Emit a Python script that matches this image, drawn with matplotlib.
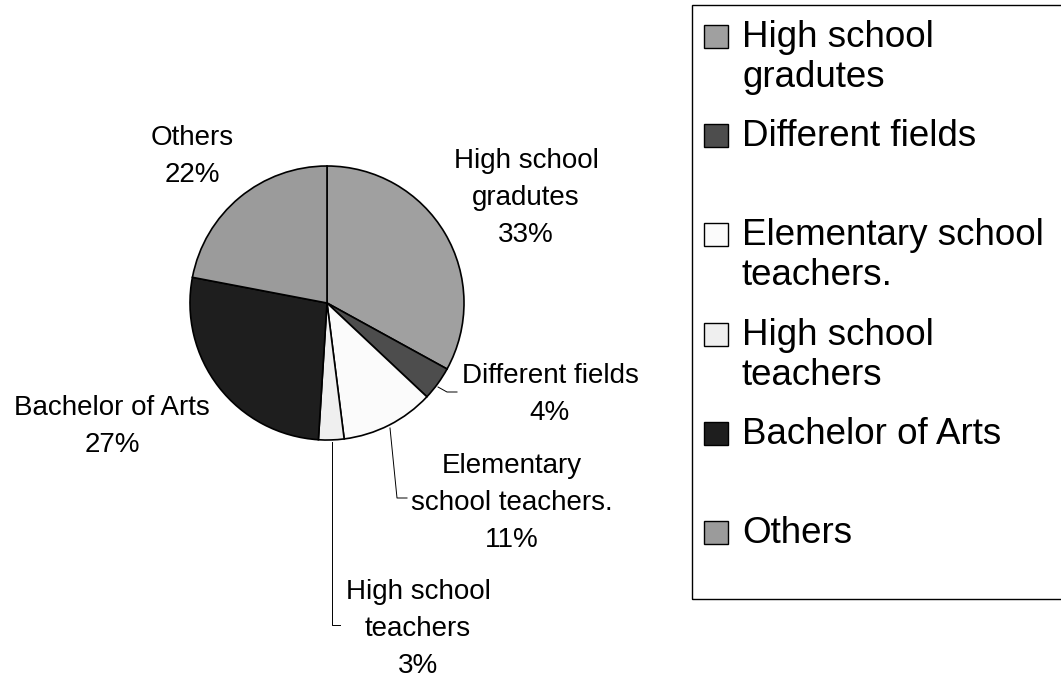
import matplotlib
matplotlib.use("Agg")
import matplotlib.pyplot as plt
from matplotlib.patches import Rectangle

plt.rcParams['font.family'] = ['Liberation Sans', 'DejaVu Sans']

# data
categories = ['High school gradutes', 'Different fields', 'Elementary school teachers.',
              'High school teachers', 'Bachelor of Arts', 'Others']
values = [33, 4, 11, 3, 27, 22]
colors = ['#a0a0a0', '#4d4d4d', '#fbfbfb', '#efefef', '#1e1e1e', '#9b9b9b']

# how the labels wrap, beside the pie and in the legend
pie_lines = [['High school', 'gradutes'], ['Different fields'], ['Elementary', 'school teachers.'],
             ['High school', 'teachers'], ['Bachelor of Arts'], ['Others']]
legend_lines = [['High school', 'gradutes'], ['Different fields'], ['Elementary school', 'teachers.'],
                ['High school', 'teachers'], ['Bachelor of Arts'], ['Others']]

W, H = 1061, 677
fig = plt.figure(figsize=(W / 100, H / 100), dpi=100)
ax = fig.add_axes([0, 0, 1, 1])

def py(y):
    # pixel row (from top) -> data y
    return H - y

ax.pie(values, colors=colors, startangle=90, counterclock=False,
       center=(327, py(303)), radius=137,
       wedgeprops={'edgecolor': 'black', 'linewidth': 1.2})
ax.set_xlim(0, W)
ax.set_ylim(0, H)
ax.set_aspect('equal')
ax.axis('off')

# label placement: centre x, first baseline (pixels from top)
label_pos = [(526, 168), (550, 383), (512, 473), (418, 599), (112, 415), (192, 145)]
line_gap = 37
for lines, v, (x, y0) in zip(pie_lines, values, label_pos):
    for k, s in enumerate(lines + [f'{v}%']):
        ax.text(x, py(y0 + k * line_gap), s, ha='center', va='baseline', fontsize=20)

# leader lines
leaders = [[(438, 387), (447, 392), (457, 392)],
           [(390, 428), (397, 498), (407, 498)],
           [(332, 442), (332, 625), (340, 625)]]
for pts in leaders:
    ax.plot([p[0] for p in pts], [py(p[1]) for p in pts], color='black', lw=0.7)

# legend box
ax.add_patch(Rectangle((692, py(599)), 400, 594, fill=False, edgecolor='black', lw=1.0, clip_on=False))
for i, (lines, c) in enumerate(zip(legend_lines, colors)):
    base = 47 + 99.2 * i
    ax.add_patch(Rectangle((704, py(base + 1)), 24, 23, facecolor=c, edgecolor='black', lw=1.0))
    for k, s in enumerate(lines):
        ax.text(742, py(base + k * 40), s, ha='left', va='baseline', fontsize=26.5)

fig.savefig('out.png', dpi=100)
